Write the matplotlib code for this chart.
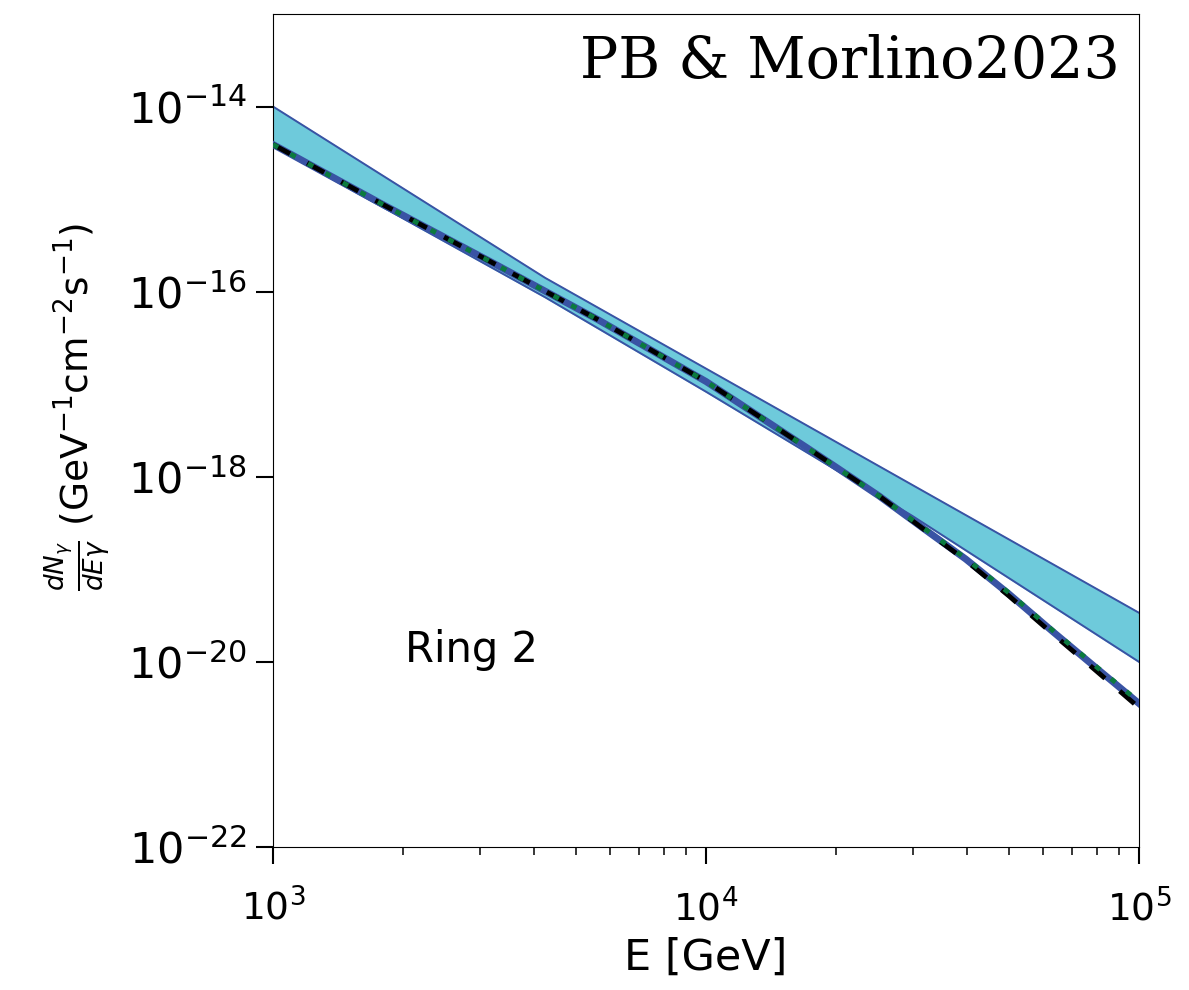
import matplotlib
matplotlib.use("Agg")
import matplotlib.pyplot as plt
import numpy as np
from matplotlib.ticker import LogLocator, NullFormatter

plt.rcParams.update({'font.size': 28})

# band of the model (upper / lower edge)
e_band_up = [1e3, 4.25e3, 1e5]
band_upper = [1.0e-14, 1.41e-16, 3.39e-20]
e_band_lo = [1e3, 4.25e3, 1e4, 2.99e4, 1e5]
band_lower = [3.72e-15, 8.7e-17, 8.3e-18, 3.8e-19, 1.0e-20]

# central curves
energy = [1e3, 1.78e3, 3.16e3, 5.62e3, 1e4, 1.78e4, 2.51e4, 3.16e4, 3.98e4, 5.01e4, 6.31e4, 7.94e4, 1e5]
flux_blue = [3.89e-15, 8.9e-16, 2.14e-16, 5.0e-17, 1.07e-17, 1.82e-18, 6.2e-19, 2.82e-19, 1.29e-19, 5.4e-20, 2.14e-20, 8.7e-21, 3.55e-21]
flux_black = [3.89e-15, 8.9e-16, 2.14e-16, 5.0e-17, 1.07e-17, 1.82e-18, 6.2e-19, 2.78e-19, 1.25e-19, 5.15e-20, 2.02e-20, 8.1e-21, 3.2e-21]
flux_green = [3.89e-15, 8.9e-16, 2.14e-16, 5.0e-17, 1.07e-17, 1.82e-18, 6.2e-19, 2.85e-19, 1.31e-19, 5.55e-20, 2.2e-20, 9.0e-21, 3.7e-21]

fig = plt.figure(figsize=(11.89, 9.9), dpi=100)
ax = fig.add_axes([0.2296, 0.1444, 0.7284, 0.8415])

# fill between the two edges on a common grid
e_fill = sorted(set(e_band_up + e_band_lo))
up_fill = 10 ** np.interp(np.log10(e_fill), np.log10(e_band_up), np.log10(band_upper))
lo_fill = 10 ** np.interp(np.log10(e_fill), np.log10(e_band_lo), np.log10(band_lower))
ax.fill_between(e_fill, lo_fill, up_fill, color='#6ecadb', zorder=1)
ax.plot(e_band_up, band_upper, color='#3953a4', lw=1.4, zorder=2)
ax.plot(e_band_lo, band_lower, color='#3953a4', lw=1.4, zorder=2)

ax.plot(energy, flux_blue, color='#3953a4', lw=5, zorder=3)
ax.plot(energy, flux_black, color='black', lw=3.5, ls=(0, (4, 4)), zorder=4)
ax.plot(energy, flux_green, color='#0b7a3e', lw=3.5, ls=(0, (1.2, 2.9)), zorder=5)

ax.set_xscale('log')
ax.set_yscale('log')
ax.set_xlim(1e3, 1e5)
ax.set_ylim(1e-22, 1e-13)
ax.set_yticks([1e-22, 1e-20, 1e-18, 1e-16, 1e-14])
ax.yaxis.set_minor_locator(LogLocator(base=10, subs=[]))
ax.yaxis.set_minor_formatter(NullFormatter())
ax.xaxis.set_minor_locator(LogLocator(base=10, subs=range(2, 10)))
ax.xaxis.set_minor_formatter(NullFormatter())
ax.tick_params(which='major', length=12, width=1.5)
ax.tick_params(which='minor', length=6, width=1.1)
ax.tick_params(axis='x', which='major', labelsize=27, pad=18)
ax.tick_params(axis='y', which='major', labelsize=31, pad=7)

ax.set_xlabel('E [GeV]', fontsize=31, labelpad=6)
ax.set_ylabel(r'$\frac{dN_\gamma}{dE\gamma}$ (GeV$^{-1}$cm$^{-2}$s$^{-1}$)', fontsize=27)
ax.yaxis.set_label_coords(-0.185, 0.528)

ax.text(0.152, 0.236, 'Ring 2', transform=ax.transAxes, ha='left', va='center', fontsize=30)
ax.text(0.978, 0.942, 'PB & Morlino2023', transform=ax.transAxes, ha='right', va='center',
        fontsize=41, family='DejaVu Serif')

fig.savefig('out.png', dpi=100)
